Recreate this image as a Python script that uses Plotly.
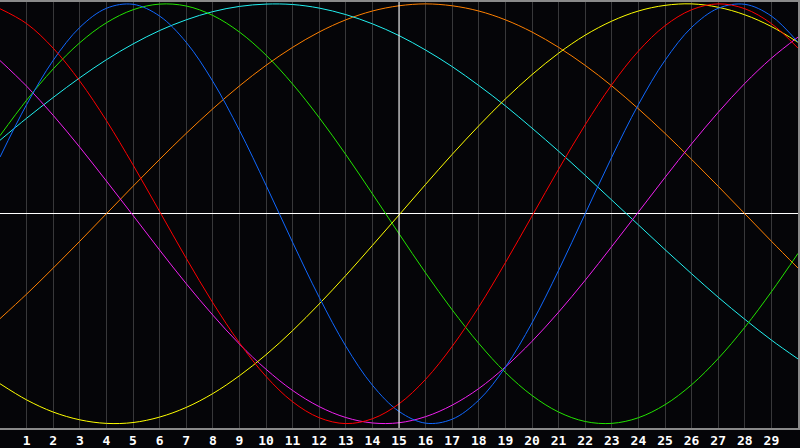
import plotly.graph_objects as go

# day index along the chart
days = list(range(31))
day_labels = [str(d) for d in range(1, 30)]

# curve values, -1 .. 1
red = [0.977, 0.906, 0.789, 0.632, 0.444, 0.233, 0.011, -0.212, -0.424, -0.615, -0.775,
       -0.896, -0.972, -1.000, -0.977, -0.906, -0.789, -0.632, -0.444, -0.233, -0.011,
       0.212, 0.424, 0.615, 0.775, 0.896, 0.972, 1.000, 0.977, 0.906, 0.789]
blue = [0.270, 0.520, 0.731, 0.888, 0.979, 0.998, 0.942, 0.817, 0.631, 0.398, 0.136,
        -0.136, -0.398, -0.631, -0.817, -0.942, -0.998, -0.979, -0.888, -0.731, -0.520,
        -0.270, 0.000, 0.270, 0.520, 0.731, 0.888, 0.979, 0.998, 0.942, 0.817]
green = [0.372, 0.541, 0.690, 0.815, 0.910, 0.972, 0.999, 0.990, 0.945, 0.866, 0.756,
         0.618, 0.458, 0.282, 0.095, -0.095, -0.282, -0.458, -0.618, -0.756, -0.866,
         -0.945, -0.990, -0.999, -0.972, -0.910, -0.815, -0.690, -0.541, -0.372, -0.189]
yellow = [-0.810, -0.887, -0.945, -0.982, -0.999, -0.995, -0.969, -0.923, -0.857, -0.772, -0.672,
          -0.557, -0.430, -0.294, -0.151, -0.006, 0.140, 0.283, 0.419, 0.547, 0.663,
          0.765, 0.851, 0.918, 0.966, 0.993, 1.000, 0.984, 0.948, 0.892, 0.817]
orange = [-0.500, -0.383, -0.259, -0.131, 0.000, 0.131, 0.259, 0.383, 0.500, 0.609, 0.707,
          0.793, 0.866, 0.924, 0.966, 0.991, 1.000, 0.991, 0.966, 0.924, 0.866,
          0.793, 0.707, 0.609, 0.500, 0.383, 0.259, 0.131, 0.000, -0.131, -0.259]
cyan = [0.350, 0.455, 0.554, 0.648, 0.734, 0.809, 0.873, 0.924, 0.963, 0.988, 0.999,
        0.997, 0.980, 0.949, 0.905, 0.849, 0.780, 0.701, 0.611, 0.514, 0.408,
        0.298, 0.183, 0.065, -0.053, -0.171, -0.286, -0.398, -0.503, -0.602, -0.692]
magenta = [0.730, 0.608, 0.469, 0.317, 0.156, -0.008, -0.173, -0.333, -0.483, -0.621, -0.741,
           -0.842, -0.919, -0.971, -0.997, -0.996, -0.967, -0.912, -0.833, -0.730, -0.608,
           -0.469, -0.317, -0.156, 0.008, 0.173, 0.333, 0.483, 0.621, 0.741, 0.842]

series = [
    (orange, "#ff8000"),
    (cyan, "#22f0f0"),
    (magenta, "#f020f0"),
    (yellow, "#ffff00"),
    (green, "#22e400"),
    (blue, "#1068ff"),
    (red, "#ff0000"),
]

fig = go.Figure()
for vals, col in series:
    fig.add_trace(go.Scatter(x=days, y=vals, mode="lines",
                             line=dict(color=col, width=1, shape="spline"),
                             hoverinfo="skip", showlegend=False))

fig.add_vline(x=15, line_color="#ffffff", line_width=1)

fig.update_layout(
    width=800, height=448,
    margin=dict(l=0, r=0, t=0, b=20),
    paper_bgcolor="#050508",
    plot_bgcolor="#050508",
    showlegend=False,
)
fig.update_xaxes(range=[0, 30], tickvals=list(range(1, 30)), ticktext=day_labels,
                 showgrid=True, gridcolor="#38383a", gridwidth=1, zeroline=False,
                 showline=True, mirror=True, linecolor="#8a8a8a", linewidth=1.5,
                 ticks="", ticklabelstandoff=0,
                 tickfont=dict(family="DejaVu Sans Mono", size=13,
                               color="#ffffff", weight="bold"))
fig.update_yaxes(range=[-1.021, 1.009], showgrid=False, showticklabels=False,
                 zeroline=True, zerolinecolor="#ffffff", zerolinewidth=1,
                 showline=True, mirror=True, linecolor="#8a8a8a", linewidth=1.5)

# page has a default body margin; drop it so the chart fills the window
fig.write_html("out.html", config={"displayModeBar": False},
               post_script="document.body.style.margin='0';document.body.style.background='#050508';")
